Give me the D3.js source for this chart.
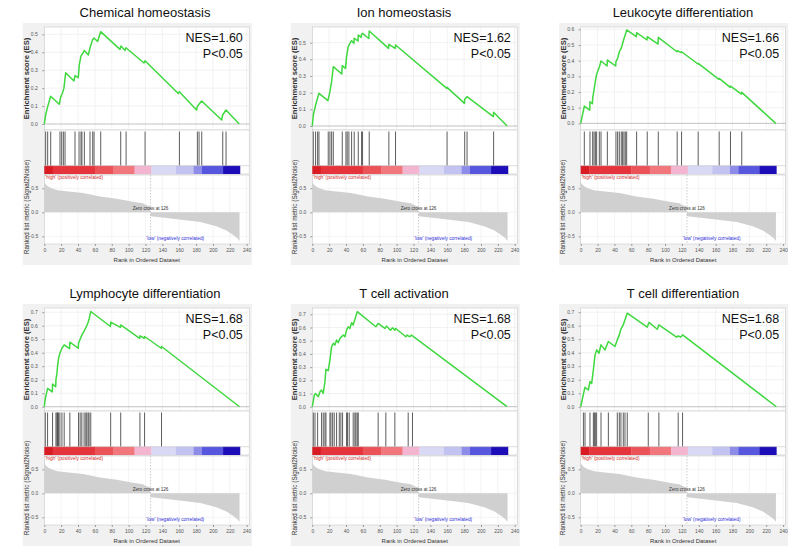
<!DOCTYPE html>
<html><head><meta charset="utf-8">
<script src="https://cdn.jsdelivr.net/npm/d3@7"></script>
<style>
body{margin:0;background:#fff}
svg{display:block}
text{font-family:"Liberation Sans",Arial,sans-serif}
</style>
</head><body>
<svg id="c" width="800" height="553"></svg>
<script>
// ---------------- DATA ----------------
const titles = ["Chemical homeostasis","Ion homeostasis","Leukocyte differentiation",
                "Lymphocyte differentiation","T cell activation","T cell differentiation"];
const nesLabels = ["NES=1.60","NES=1.62","NES=1.66","NES=1.68","NES=1.68","NES=1.68"];
const pLabels = ["P<0.05","P<0.05","P<0.05","P<0.05","P<0.05","P<0.05"];
const esDomains = [[-0.028,0.541],[-0.018,0.594],[-0.036,0.615],[-0.024,0.731],[-0.025,0.748],[-0.024,0.731]];
const esTickMax = [0.5,0.5,0.6,0.7,0.7,0.7];
const rankTicks = [0,20,40,60,80,100,120,140,160,180,200,220,240];
const metricTicks = [-0.5,0.0,0.5];
const zeroCross = 126;

// hit positions (rank) per gene set
const hits1 = [1.6,4.0,7.6,18.6,20.6,22.6,24.6,36.4,41.2,43.5,44.6,47.5,54.2,57.4,59,66.9,90.6,97,119.5,160.2,181.5,183.5,186.7,211.6,215.5];
const hits2 = [1.2,3.9,6.3,7.9,18.9,20.9,22.9,24.9,35.5,39.9,41.4,43.4,46.6,49.7,54.5,58.4,59.6,67.5,90.8,98.7,159.8,180.7,183.5,215];
const hits3 = [4.3,11,14.2,15.8,17.4,18.9,22.1,24.1,31.6,41.8,43.8,45.8,48.1,49.7,51.3,52.9,54.5,66.3,78.9,92,114.4,119.6,139.3,164.2,177.6,191];
const hits4 = [1.2,3.9,9.8,13.8,15,15.7,16.9,18.5,20.9,23.6,30.3,40.6,42.5,44.5,47.2,49.2,50.4,52,53.1,55.1,78.7,90.6,113.4,118.9,139];
const hits5 = [1.2,3.2,6.3,11,13,15,16.2,20.9,22.1,24.1,26,28.8,32,33.9,35.9,40.6,41.8,43.8,48.5,50.5,51.7,53.3,54.5,78.1,87.2,97.9,113.7,118.8];
const hits6 = [3.2,5.1,11,15,16.2,17.4,18.9,24.1,32.8,43.4,45.8,47.7,50.5,52.5,55.2,80.1,92.7,115.6,120.8];

// running enrichment score vertices [rank, ES]
const es1 = [[0,0],[1.6,0.05],[4.0,0.097],[7.5,0.155],[17.8,0.11],[19.4,0.15],[21.3,0.17],[23.3,0.2],[25.3,0.286],[35.2,0.24],[36.4,0.27],[40.3,0.258],[41.5,0.33],[43.5,0.38],[45.1,0.39],[47.4,0.41],[52.2,0.385],[54.2,0.425],[57.3,0.47],[58.9,0.48],[63.2,0.46],[66.8,0.515],[89.7,0.416],[90.9,0.435],[95.7,0.41],[96.8,0.425],[118.2,0.34],[119.4,0.353],[158.9,0.17],[160.1,0.18],[180.6,0.078],[181.4,0.097],[183.4,0.11],[186.6,0.128],[210.3,0.022],[211.5,0.05],[215.4,0.078],[231.2,0]];
const es2 = [[0,0],[1.2,0.066],[3.9,0.126],[7.9,0.196],[18.5,0.152],[20.9,0.206],[22.9,0.266],[24.9,0.356],[35,0.312],[35.5,0.362],[39.4,0.346],[40.6,0.416],[42.6,0.476],[44.6,0.496],[46.6,0.512],[49.3,0.496],[49.7,0.526],[54.2,0.51],[54.5,0.546],[58,0.532],[58.4,0.55],[59.6,0.556],[67,0.525],[67.5,0.57],[90.4,0.466],[90.8,0.49],[98.3,0.466],[98.7,0.486],[159.5,0.226],[159.8,0.232],[180.4,0.136],[180.7,0.16],[183.5,0.176],[214.7,0.056],[215,0.082],[231,0]];
const es3 = [[0,0],[4.3,0.11],[10.7,0.085],[11,0.138],[13.9,0.125],[14.2,0.16],[15.8,0.213],[17.4,0.27],[18.9,0.315],[22.1,0.36],[24.1,0.398],[31.3,0.366],[31.6,0.404],[41.5,0.366],[41.8,0.394],[43.8,0.415],[45.8,0.457],[48.1,0.48],[49.7,0.51],[51.3,0.54],[52.9,0.565],[54.5,0.596],[66,0.553],[66.3,0.579],[78.6,0.532],[78.9,0.553],[91.7,0.506],[92,0.549],[114.1,0.457],[114.4,0.464],[119.3,0.451],[119.6,0.457],[139,0.379],[139.3,0.383],[163.9,0.281],[164.2,0.287],[177.3,0.23],[177.6,0.238],[190.7,0.187],[191,0.198],[231.3,0]];
const es4 = [[0,0],[1.2,0.06],[3.9,0.136],[9.5,0.11],[9.8,0.168],[13.5,0.148],[13.8,0.2],[15,0.247],[15.7,0.3],[16.9,0.359],[18.5,0.396],[20.9,0.433],[23.6,0.458],[30,0.43],[30.3,0.478],[40.3,0.433],[40.6,0.47],[42.5,0.5],[44.5,0.53],[47.2,0.56],[49.2,0.585],[50.4,0.6],[52,0.625],[53.1,0.65],[55.1,0.705],[78.4,0.594],[78.7,0.626],[90.3,0.587],[90.6,0.606],[113.1,0.507],[113.4,0.525],[118.6,0.507],[118.9,0.52],[138.7,0.433],[139,0.446],[231.5,0]];
const es5 = [[0,0],[2.4,0.088],[3.9,0.1],[7.1,0.076],[9.1,0.114],[11,0.126],[13,0.1],[15,0.19],[16.2,0.283],[18.9,0.273],[20.9,0.354],[22.9,0.455],[24.9,0.48],[26.8,0.467],[28.8,0.505],[30.8,0.485],[32.8,0.518],[36.7,0.543],[38.7,0.53],[40.6,0.58],[42.6,0.606],[44.6,0.593],[46.6,0.636],[48.5,0.619],[50.5,0.662],[53.3,0.72],[75.4,0.606],[78.1,0.631],[86,0.593],[88,0.611],[92.7,0.58],[95.1,0.598],[97.9,0.58],[99,0.593],[110.9,0.53],[112.5,0.543],[115.6,0.53],[117.6,0.543],[230.9,0]];
const es6 = [[0,0],[3,0.087],[5,0.144],[9,0.124],[11,0.186],[13,0.173],[15,0.272],[17,0.384],[19,0.421],[21.7,0.396],[24,0.458],[28.8,0.421],[32.8,0.483],[40.6,0.446],[43.4,0.495],[45.8,0.532],[47.7,0.574],[50.5,0.606],[52.5,0.644],[55.2,0.693],[78.9,0.589],[80.9,0.624],[90.8,0.574],[92.7,0.606],[113.7,0.515],[115.6,0.525],[118.4,0.515],[120.8,0.532],[232,0]];

// ranked list metric (shared ranked dataset) [rank, value]
const metricPos = [[0,0.62],[1,0.6],[3,0.56],[6,0.52],[10,0.49],[16,0.46],[26,0.44],[46,0.40],[66,0.33],[86,0.28],[105,0.22],[117,0.19],[120,0.16],[124,0.13],[125.5,0.12]];
const metricNeg = [[126,-0.08],[145,-0.12],[165,-0.16],[185,-0.20],[204,-0.29],[216,-0.38],[224,-0.47],[229,-0.54],[231.5,-0.6]];

// colour bar segments
const barEdges = [0,10,60,82,107,127,156,177,187,212,232];
const barColors = ["#d91c24","#e5343b","#ec5359","#f1777c","#f3b5d0","#d9d9f6","#c3c3f1","#8d8de9","#5656de","#1d0db8"];

const hitsAll = [hits1,hits2,hits3,hits4,hits5,hits6];
const esAll = [es1,es2,es3,es4,es5,es6];

// ---------------- LAYOUT ----------------
const svg = d3.select("#c");
const colX0 = [44.3, 312.3, 580.7];
const titleX = [145, 404, 683];
const rowDy = [0, 281];
const W = 202.4;
const ES_TOP = 27, ES_BOT = 130, HIT_TOP = 131.5, BAR_TOP = 165.7, BAR_BOT = 174, RK_TOP = 175, RK_BOT = 244;

titles.forEach((title, i) => {
  const col = i % 3, row = Math.floor(i / 3);
  const x0 = colX0[col];
  const g = svg.append("g").attr("transform", `translate(0,${rowDy[row]})`);
  const x = d3.scaleLinear().domain([0, 240]).range([x0, x0 + W]);
  const right = x(243);

  // panel background
  g.append("rect").attr("x", x0 - 21.5).attr("y", 23).attr("width", right + 2.5 - (x0 - 21.5))
    .attr("height", 242).attr("fill", "#f1f1f1");

  // title
  g.append("text").attr("x", titleX[col]).attr("y", 16.8).attr("text-anchor", "middle")
    .attr("font-size", 13).attr("fill", "#111").text(title);

  // ---------- ES plot ----------
  const y = d3.scaleLinear().domain(esDomains[i]).range([ES_BOT - 1, ES_TOP]);
  g.append("rect").attr("x", x0).attr("y", ES_TOP).attr("width", right - x0).attr("height", ES_BOT - ES_TOP)
    .attr("fill", "#fff").attr("stroke", "#c9c9c9").attr("stroke-width", 0.6);
  const esTicks = d3.range(0, esTickMax[i] + 0.001, 0.1);
  g.selectAll(null).data(rankTicks.slice(1)).join("line")
    .attr("x1", d => x(d)).attr("x2", d => x(d)).attr("y1", ES_TOP).attr("y2", ES_BOT)
    .attr("stroke", "#e9e9e9").attr("stroke-width", 0.6);
  g.selectAll(null).data(esTicks.slice(1)).join("line")
    .attr("x1", x0).attr("x2", right).attr("y1", d => y(d)).attr("y2", d => y(d))
    .attr("stroke", "#e9e9e9").attr("stroke-width", 0.6);
  g.append("line").attr("x1", x0).attr("x2", right).attr("y1", y(0)).attr("y2", y(0))
    .attr("stroke", "#a8a8a8").attr("stroke-width", 0.7);

  const ya = g.append("g").attr("transform", `translate(${x0},0)`)
    .call(d3.axisLeft(y).tickValues(esTicks).tickFormat(d3.format(".1f")).tickSize(2).tickPadding(4.5));
  ya.select(".domain").remove();
  ya.selectAll("line").attr("stroke", "#999");
  ya.selectAll("text").attr("font-size", 5).attr("fill", "#555").attr("font-family", "Liberation Sans, Arial, sans-serif");

  g.append("path").datum(esAll[i])
    .attr("d", d3.line().x(d => x(d[0])).y(d => y(d[1])))
    .attr("fill", "none").attr("stroke", "#3fd83f").attr("stroke-width", 1.5).attr("stroke-linejoin", "round");

  g.append("text").attr("x", x0 + 198.5).attr("y", 41.7).attr("text-anchor", "end")
    .attr("font-size", 12.5).attr("fill", "#111").text(nesLabels[i]);
  g.append("text").attr("x", x0 + 198.5).attr("y", 58.2).attr("text-anchor", "end")
    .attr("font-size", 12.5).attr("fill", "#111").text(pLabels[i]);

  g.append("text").attr("transform", `translate(${x0 - 17.8},${(ES_TOP + ES_BOT) / 2}) rotate(-90)`)
    .attr("text-anchor", "middle").attr("dy", "0.35em").attr("font-size", 7.6).attr("font-weight", "bold")
    .attr("fill", "#333").text("Enrichment score (ES)");

  // ---------- hits + colour bar ----------
  g.append("rect").attr("x", x0).attr("y", ES_BOT).attr("width", right - x0).attr("height", BAR_BOT - ES_BOT)
    .attr("fill", "#fff").attr("stroke", "#c9c9c9").attr("stroke-width", 0.6);
  g.selectAll(null).data(hitsAll[i]).join("line")
    .attr("x1", d => x(d)).attr("x2", d => x(d)).attr("y1", HIT_TOP).attr("y2", BAR_TOP)
    .attr("stroke", "#333").attr("stroke-width", 0.8);
  g.selectAll(null).data(barColors).join("rect")
    .attr("x", (d, k) => x(barEdges[k])).attr("width", (d, k) => x(barEdges[k + 1]) - x(barEdges[k]) + 0.3)
    .attr("y", BAR_TOP).attr("height", BAR_BOT - BAR_TOP).attr("fill", d => d);
  g.append("line").attr("x1", x0).attr("x2", right).attr("y1", BAR_TOP).attr("y2", BAR_TOP)
    .attr("stroke", "#bbb").attr("stroke-width", 0.5);

  // ---------- ranked list metric ----------
  const ym = d3.scaleLinear().domain([-0.66, 0.777]).range([RK_BOT, RK_TOP]);
  g.append("rect").attr("x", x0).attr("y", RK_TOP).attr("width", right - x0).attr("height", RK_BOT - RK_TOP)
    .attr("fill", "#fff").attr("stroke", "#c9c9c9").attr("stroke-width", 0.6);
  g.selectAll(null).data(rankTicks.slice(1)).join("line")
    .attr("x1", d => x(d)).attr("x2", d => x(d)).attr("y1", RK_TOP).attr("y2", RK_BOT)
    .attr("stroke", "#ececec").attr("stroke-width", 0.6);
  g.selectAll(null).data(metricTicks).join("line")
    .attr("x1", x0).attr("x2", right).attr("y1", d => ym(d)).attr("y2", d => ym(d))
    .attr("stroke", "#ececec").attr("stroke-width", 0.6);

  const area = d3.area().x(d => x(d[0])).y0(ym(0)).y1(d => ym(d[1]));
  g.append("path").datum(metricPos).attr("d", area).attr("fill", "#d0d0d0");
  g.append("path").datum(metricNeg).attr("d", area).attr("fill", "#d0d0d0");

  g.append("line").attr("x1", x(zeroCross)).attr("x2", x(zeroCross)).attr("y1", RK_TOP).attr("y2", RK_BOT)
    .attr("stroke", "#aaa").attr("stroke-width", 0.6).attr("stroke-dasharray", "1.5,1.5");

  g.append("text").attr("x", x(zeroCross)).attr("y", 209.6).attr("text-anchor", "middle")
    .attr("font-size", 4.6).attr("fill", "#333").text("Zero cross at " + zeroCross);
  g.append("text").attr("x", x0 + 1).attr("y", 178.7)
    .attr("font-size", 4.8).attr("fill", "#d42a2a").text("'high' (positively correlated)");
  g.append("text").attr("x", x(121)).attr("y", 239.6)
    .attr("font-size", 4.8).attr("fill", "#2b2bd6").text("'low' (negatively correlated)");

  const yma = g.append("g").attr("transform", `translate(${x0},0)`)
    .call(d3.axisLeft(ym).tickValues(metricTicks).tickFormat(d3.format(".1f")).tickSize(2).tickPadding(4));
  yma.select(".domain").remove();
  yma.selectAll("line").attr("stroke", "#999");
  yma.selectAll("text").attr("font-size", 5).attr("fill", "#555").attr("font-family", "Liberation Sans, Arial, sans-serif");

  const xa = g.append("g").attr("transform", `translate(0,${RK_BOT})`)
    .call(d3.axisBottom(x).tickValues(rankTicks).tickSize(2).tickPadding(2.5));
  xa.select(".domain").remove();
  xa.selectAll("line").attr("stroke", "#999");
  xa.selectAll("text").attr("font-size", 5).attr("fill", "#555").attr("font-family", "Liberation Sans, Arial, sans-serif");

  g.append("text").attr("x", (x0 + right) / 2).attr("y", 262).attr("text-anchor", "middle")
    .attr("font-size", 6).attr("fill", "#333").text("Rank in Ordered Dataset");

  g.append("text").attr("transform", `translate(${x0 - 17.8},207) rotate(-90)`)
    .attr("text-anchor", "middle").attr("dy", "0.35em").attr("font-size", 6.4)
    .attr("fill", "#333").text("Ranked list metric (Signal2Noise)");
});
</script>
</body></html>
